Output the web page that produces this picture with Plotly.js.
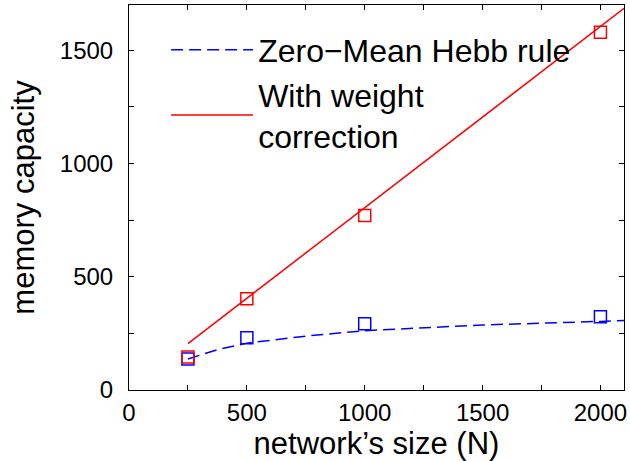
<!DOCTYPE html>
<html><head><meta charset="utf-8">
<script src="https://cdn.plot.ly/plotly-3.0.1.min.js"></script>
<style>body{margin:0;background:#fff}</style>
</head><body>
<div id="chart" style="width:630px;height:461px"></div>
<script>
// measured points
var sizesN = [250, 500, 1000, 2000];
var hebbValues = [137, 231, 292, 323];
var correctedValues = [146, 403, 770, 1580];
// fitted curves
var hebbFitN = [250, 375, 500, 750, 1000, 1500, 2000, 2100];
var hebbFitValues = [137, 178, 207, 238, 262, 287, 303, 307];
var corrFitN = [250, 2100];
var corrFitValues = [205, 1685];
var xTickVals = [0, 250, 500, 750, 1000, 1250, 1500, 1750, 2000];
var xTickText = ['0', '', '500', '', '1000', '', '1500', '', '2000'];
var yTickVals = [0, 250, 500, 750, 1000, 1250, 1500];
var yTickText = ['0', '', '500', '', '1000', '', '1500'];

var FONT = 'Liberation Sans, Arial, sans-serif';

var traces = [
  {x: hebbFitN, y: hebbFitValues, mode: 'lines', name: 'Zero\u2212Mean Hebb rule',
   line: {color: '#0000ff', width: 1.5, dash: '12px,6px'}},
  {x: corrFitN, y: corrFitValues, mode: 'lines', name: 'With weight<br>correction',
   line: {color: '#ff0000', width: 1.5}},
  {x: sizesN, y: hebbValues, mode: 'markers', showlegend: false,
   marker: {symbol: 'square-open', size: 12, color: '#0000ff', line: {width: 1.5}}},
  {x: sizesN, y: correctedValues, mode: 'markers', showlegend: false,
   marker: {symbol: 'square-open', size: 12, color: '#ff0000', line: {width: 1.5}}}
];

var axisCommon = {
  showgrid: false, zeroline: false, showline: true, mirror: 'allticks',
  linecolor: '#000', linewidth: 1, ticks: 'inside', ticklen: 5, tickcolor: '#000',
  tickmode: 'array',
  tickfont: {family: FONT, size: 24, color: '#000'}
};

var layout = {
  width: 630, height: 461,
  margin: {l: 129, r: 6, t: 5, b: 71},
  paper_bgcolor: '#fff', plot_bgcolor: '#fff',
  font: {family: FONT, color: '#000'},
  xaxis: Object.assign({}, axisCommon, {
    range: [0, 2100], tickvals: xTickVals, ticktext: xTickText,
    ticklabelstandoff: 1,
    title: {text: 'network\u2019s size (N)', font: {family: FONT, size: 31}, standoff: 4}
  }),
  yaxis: Object.assign({}, axisCommon, {
    range: [0, 1700], tickvals: yTickVals, ticktext: yTickText,
    ticklabelstandoff: 10,
    title: {text: 'memory capacity', font: {family: FONT, size: 31}, standoff: 15}
  }),
  showlegend: true,
  legend: {x: 0.075, y: 0.955, xanchor: 'left', yanchor: 'top',
    bgcolor: 'rgba(0,0,0,0)', borderwidth: 0, itemwidth: 82,
    font: {family: FONT, size: 32, color: '#000'},
    tracegroupgap: 0}
};

Plotly.newPlot('chart', traces, layout, {displayModeBar: false, staticPlot: true});
</script>
</body></html>
